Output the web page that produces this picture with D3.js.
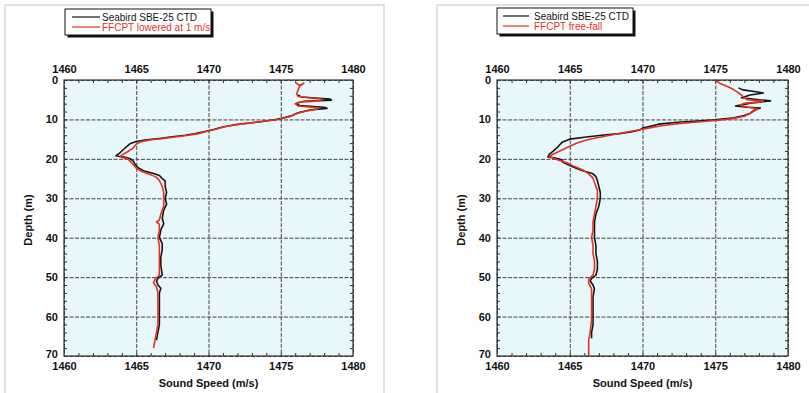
<!DOCTYPE html>
<html>
<head>
<meta charset="utf-8">
<script src="https://cdn.jsdelivr.net/npm/d3@7"></script>
<style>
  body { margin: 0; background: #fff; }
  svg { display: block; font-family: "Liberation Sans", Arial, sans-serif; }
  .tick-label { font-size: 11px; font-weight: bold; fill: #111; }
  .axis-title { font-size: 11px; font-weight: bold; fill: #111; }
  .legend-text { font-size: 10px; }
</style>
</head>
<body>
<svg id="chart"></svg>
<script>
// tick values shared by both panels
const speedTicks = [1460, 1465, 1470, 1475, 1480];
const depthTicks = [0, 10, 20, 30, 40, 50, 60, 70];

// [depth (m), sound speed (m/s)] - left panel, FFCPT lowered at 1 m/s
const ctdLowered = [
  [3.8,1476.2],[4.3,1476.4],[4.8,1478.4],[5.1,1478.5],[5.4,1476.6],[5.9,1476.1],[6.5,1476.3],
  [6.9,1478.0],[7.2,1478.2],[7.6,1477.0],[8.3,1476.2],[9.0,1475.8],[9.6,1475.2],[10.1,1474.6],
  [10.7,1473.3],[11.3,1471.9],[12.0,1470.9],[12.6,1470.3],[13.2,1469.6],[13.6,1469.1],[14.0,1468.4],
  [14.4,1467.5],[14.8,1466.7],[15.2,1465.6],[15.6,1465.0],[16.1,1464.6],[17.0,1464.3],[18.0,1464.0],
  [18.7,1463.8],[19.2,1463.6],[19.5,1464.1],[20.0,1464.6],[20.6,1464.8],[21.3,1464.9],[22.2,1465.1],
  [23.0,1465.5],[23.7,1466.2],[24.2,1466.6],[25.0,1466.8],[25.6,1467.0],[27.0,1467.0],[28.5,1467.1],
  [30.0,1467.0],[31.5,1467.1],[33.0,1466.9],[35.0,1466.8],[36.5,1466.9],[38.0,1466.7],[40.0,1466.6],
  [41.5,1466.8],[43.0,1466.8],[45.0,1466.7],[47.0,1466.7],[49.5,1466.8],[50.3,1466.5],[51.0,1466.4],
  [52.0,1466.5],[52.8,1466.7],[54.0,1466.6],[56.0,1466.6],[58.0,1466.6],[60.0,1466.6],[62.0,1466.6],
  [64.0,1466.5],[66.0,1466.4]
];
const ffcptLowered = [
  [0.6,1476.0],[1.4,1476.3],[0.8,1476.6],[1.6,1476.3],[2.5,1476.2],[3.5,1476.1],[4.2,1476.2],
  [4.9,1477.9],[5.3,1477.6],[5.6,1476.3],[6.0,1476.0],[6.6,1476.2],[7.0,1477.4],[7.4,1477.5],
  [7.9,1476.7],[8.6,1476.0],[9.3,1475.6],[10.0,1474.8],[10.6,1473.6],[11.2,1472.2],[11.8,1471.2],
  [12.5,1470.5],[13.1,1469.8],[13.6,1469.3],[14.0,1468.6],[14.4,1467.8],[14.8,1466.9],[15.2,1465.9],
  [15.7,1465.3],[16.3,1465.0],[17.2,1464.8],[18.2,1464.4],[19.0,1464.0],[19.5,1463.9],[20.0,1464.4],
  [20.7,1464.6],[21.5,1464.8],[22.4,1465.0],[23.2,1465.4],[24.0,1466.0],[24.7,1466.4],[25.5,1466.6],
  [27.0,1466.8],[28.5,1466.9],[30.0,1466.9],[32.0,1466.9],[34.0,1466.7],[35.5,1466.6],[36.0,1466.4],
  [36.6,1466.6],[38.0,1466.6],[40.0,1466.5],[42.0,1466.6],[44.0,1466.6],[46.0,1466.6],[48.0,1466.6],
  [49.5,1466.6],[50.5,1466.3],[51.5,1466.2],[52.5,1466.4],[54.0,1466.5],[56.0,1466.5],[58.0,1466.5],
  [60.0,1466.5],[62.0,1466.5],[64.0,1466.4],[66.0,1466.3],[68.0,1466.2]
];

// right panel, FFCPT free-fall
const ctdFreeFall = [
  [2.0,1476.6],[2.5,1476.9],[3.0,1477.8],[3.3,1478.3],[3.8,1477.4],[4.5,1476.8],[5.0,1478.0],
  [5.3,1478.8],[5.8,1477.5],[6.6,1476.4],[6.9,1477.2],[7.1,1478.1],[7.6,1477.7],[8.4,1477.4],
  [9.0,1477.0],[9.6,1476.3],[10.1,1475.0],[10.4,1473.8],[10.7,1472.4],[11.2,1471.1],[11.7,1470.6],
  [12.2,1470.0],[12.7,1469.8],[13.2,1469.2],[13.6,1468.4],[14.0,1467.2],[14.5,1466.0],[15.0,1465.0],
  [15.7,1464.5],[16.5,1464.3],[17.3,1464.1],[18.2,1463.8],[18.8,1463.6],[19.5,1463.5],[19.8,1464.0],
  [20.3,1464.5],[20.8,1464.5],[21.5,1464.9],[22.3,1465.4],[23.0,1465.9],[23.8,1466.6],[24.5,1466.8],
  [25.5,1466.9],[27.0,1467.0],[28.5,1467.1],[30.0,1467.1],[32.0,1467.0],[34.0,1466.8],[36.0,1466.7],
  [38.0,1466.7],[40.0,1466.7],[42.0,1466.8],[44.0,1466.8],[46.0,1466.9],[48.0,1466.9],[49.5,1466.8],
  [50.3,1466.5],[51.0,1466.4],[52.0,1466.6],[53.0,1466.7],[55.0,1466.6],[57.0,1466.6],[60.0,1466.6],
  [62.0,1466.6],[64.0,1466.5],[65.5,1466.5]
];
const ffcptFreeFall = [
  [0.0,1475.0],[0.8,1475.3],[1.6,1475.8],[2.3,1476.2],[3.0,1476.5],[3.8,1476.8],[4.5,1477.0],
  [5.0,1477.2],[5.3,1478.3],[5.6,1478.0],[5.9,1477.0],[6.4,1476.7],[6.9,1477.3],[7.3,1477.9],
  [7.8,1477.7],[8.5,1477.4],[9.2,1477.0],[9.8,1476.2],[10.2,1475.2],[10.6,1474.0],[11.0,1472.6],
  [11.6,1471.3],[12.2,1470.4],[12.8,1469.5],[13.5,1468.5],[14.2,1467.5],[14.7,1466.8],[15.3,1466.1],
  [16.0,1465.5],[16.8,1465.0],[17.7,1464.5],[18.6,1464.0],[19.3,1463.6],[19.6,1463.7],[20.3,1464.2],
  [21.0,1464.8],[21.9,1465.3],[22.8,1465.9],[23.8,1466.3],[24.9,1466.6],[26.0,1466.7],[28.0,1466.9],
  [30.0,1466.9],[32.0,1466.8],[34.0,1466.7],[36.0,1466.6],[38.0,1466.6],[40.0,1466.5],[42.0,1466.6],
  [44.0,1466.6],[46.0,1466.7],[48.0,1466.7],[49.5,1466.6],[50.5,1466.3],[51.5,1466.3],[53.0,1466.5],
  [55.0,1466.5],[58.0,1466.5],[61.0,1466.5],[64.0,1466.4],[66.0,1466.3],[68.0,1466.3],[70.0,1466.3]
];

const ctdLabel = 'Seabird SBE-25 CTD';

class ProfilePanel {

    constructor(_config) {
        this.config = {
            parent: _config.parent,
            frameX: _config.frameX,
            frameWidth: _config.frameWidth,
            plot: _config.plot,           // {x, y, width, height}
            legend: _config.legend,       // {x, y, width, height}
            series: _config.series
        }
        this.initVis();
        this.renderVis();
    }

    initVis() {
        let vis = this;
        const p = vis.config.plot;

        vis.xScale = d3.scaleLinear()
            .domain([1460, 1480])
            .range([0, p.width]);

        vis.yScale = d3.scaleLinear()
            .domain([0, 70])
            .range([0, p.height]);

        // outer light frame
        vis.config.parent.append('rect')
            .attr('x', vis.config.frameX)
            .attr('y', 5)
            .attr('width', vis.config.frameWidth)
            .attr('height', 400)
            .attr('fill', 'none')
            .attr('stroke', '#c4c4c4')
            .attr('stroke-width', 1);

        vis.chart = vis.config.parent.append('g')
            .attr('transform', `translate(${p.x},${p.y})`);
    }

    renderVis() {
        let vis = this;
        const p = vis.config.plot;
        const fmt = d3.format('d');

        vis.chart.append('rect')
            .attr('width', p.width)
            .attr('height', p.height)
            .attr('fill', '#e7f7fa');

        // grid lines
        vis.chart.append('g')
            .attr('class', 'grid')
            .call(d3.axisBottom(vis.xScale).tickValues(speedTicks).tickSize(p.height).tickFormat(''))
            .call(g => g.select('.domain').remove());
        vis.chart.append('g')
            .attr('class', 'grid')
            .call(d3.axisRight(vis.yScale).tickValues(depthTicks).tickSize(p.width).tickFormat(''))
            .call(g => g.select('.domain').remove());
        vis.chart.selectAll('.grid line')
            .attr('stroke', '#444')
            .attr('stroke-width', 1)
            .attr('stroke-dasharray', '4,1.5');

        // minor ticks on all four sides, pointing inward
        const xMinor = d3.range(1461, 1480, 1);
        const yMinor = d3.range(2, 70, 2);
        vis.chart.append('g').attr('class', 'minor')
            .call(d3.axisBottom(vis.xScale).tickValues(xMinor).tickSize(3).tickFormat(''));
        vis.chart.append('g').attr('class', 'minor')
            .attr('transform', `translate(0,${p.height})`)
            .call(d3.axisTop(vis.xScale).tickValues(xMinor).tickSize(3).tickFormat(''));
        vis.chart.append('g').attr('class', 'minor')
            .call(d3.axisRight(vis.yScale).tickValues(yMinor).tickSize(3).tickFormat(''));
        vis.chart.append('g').attr('class', 'minor')
            .attr('transform', `translate(${p.width},0)`)
            .call(d3.axisLeft(vis.yScale).tickValues(yMinor).tickSize(3).tickFormat(''));
        vis.chart.selectAll('.minor .domain').remove();
        vis.chart.selectAll('.minor line').attr('stroke', '#333');

        // profiles
        const line = d3.line()
            .x(d => vis.xScale(d[1]))
            .y(d => vis.yScale(d[0]));

        vis.chart.selectAll('.profile')
            .data(vis.config.series)
            .join('path')
            .attr('class', 'profile')
            .attr('d', d => line(d.values))
            .attr('fill', 'none')
            .attr('stroke', d => d.color)
            .attr('stroke-width', 1.6)
            .attr('stroke-linejoin', 'round');

        // plot border
        vis.chart.append('rect')
            .attr('width', p.width)
            .attr('height', p.height)
            .attr('fill', 'none')
            .attr('stroke', '#333')
            .attr('stroke-width', 1.2);

        // tick labels
        vis.chart.append('g')
            .call(d3.axisTop(vis.xScale).tickValues(speedTicks).tickFormat(fmt).tickSize(0).tickPadding(7))
            .call(g => g.select('.domain').remove())
            .selectAll('text').attr('class', 'tick-label');
        vis.chart.append('g')
            .attr('transform', `translate(0,${p.height})`)
            .call(d3.axisBottom(vis.xScale).tickValues(speedTicks).tickFormat(fmt).tickSize(0).tickPadding(6))
            .call(g => g.select('.domain').remove())
            .selectAll('text').attr('class', 'tick-label');
        vis.chart.append('g')
            .call(d3.axisLeft(vis.yScale).tickValues(depthTicks).tickFormat(fmt).tickSize(0).tickPadding(6))
            .call(g => g.select('.domain').remove())
            .selectAll('text').attr('class', 'tick-label');
        vis.chart.selectAll('.tick-label').attr('font-size', null).attr('font-family', null);
        // nudge the corner label 70 up a little so it clears the 1460 below it
        vis.chart.selectAll('.tick-label').filter(d => d === 70).attr('dy', '0.1em');

        // axis titles
        vis.chart.append('text')
            .attr('class', 'axis-title')
            .attr('x', p.width / 2)
            .attr('y', p.height + 31)
            .attr('text-anchor', 'middle')
            .text('Sound Speed (m/s)');
        vis.chart.append('text')
            .attr('class', 'axis-title')
            .attr('transform', `translate(${-32},${p.height / 2 + 2}) rotate(-90)`)
            .attr('text-anchor', 'middle')
            .text('Depth (m)');

        // legend with drop shadow
        const lg = vis.config.legend;
        const legend = vis.config.parent.append('g')
            .attr('transform', `translate(${lg.x},${lg.y})`);
        legend.append('rect')
            .attr('x', 2.5).attr('y', 2.5)
            .attr('width', lg.width).attr('height', lg.height)
            .attr('fill', '#111');
        legend.append('rect')
            .attr('width', lg.width).attr('height', lg.height)
            .attr('fill', '#fff')
            .attr('stroke', '#111')
            .attr('stroke-width', 1);
        vis.config.series.forEach((s, i) => {
            const y = 8 + i * 10;
            legend.append('line')
                .attr('x1', lg.lineX).attr('x2', lg.lineX + lg.lineLen)
                .attr('y1', y).attr('y2', y)
                .attr('stroke', s.color)
                .attr('stroke-width', 1.2);
            legend.append('text')
                .attr('class', 'legend-text')
                .attr('x', lg.textX)
                .attr('y', y + 3.5)
                .attr('fill', s.color)
                .text(s.label);
        });
    }
}

const svg = d3.select('#chart')
    .attr('width', 809)
    .attr('height', 393);

new ProfilePanel({
    parent: svg.append('g'),
    frameX: 5,
    frameWidth: 379,
    plot: {x: 64, y: 80, width: 289, height: 276},
    legend: {x: 65, y: 9, width: 146, height: 26, lineX: 7, lineLen: 28, textX: 37},
    series: [
        {label: ctdLabel, color: '#141414', values: ctdLowered},
        {label: 'FFCPT lowered at 1 m/s', color: '#e6321e', values: ffcptLowered}
    ]
});

new ProfilePanel({
    parent: svg.append('g'),
    frameX: 437,
    frameWidth: 380,
    plot: {x: 497, y: 80, width: 291, height: 276},
    legend: {x: 497, y: 8, width: 136, height: 26, lineX: 6, lineLen: 26, textX: 37},
    series: [
        {label: ctdLabel, color: '#141414', values: ctdFreeFall},
        {label: 'FFCPT free-fall', color: '#e6321e', values: ffcptFreeFall}
    ]
});
</script>
</body>
</html>
